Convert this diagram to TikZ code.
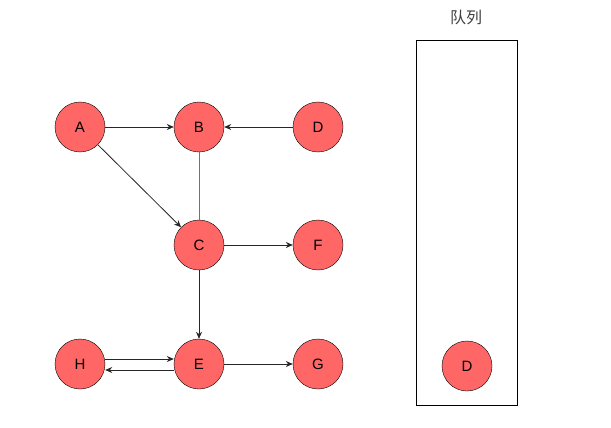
\documentclass[tikz,border=0pt]{standalone}
\usepackage{fontspec}
\setmainfont{Liberation Sans}
\newfontfamily\cjk{Noto Sans CJK SC}
\usepackage{tikz}
\usetikzlibrary{arrows.meta}
\definecolor{nodered}{HTML}{FF6666}
\tikzset{
  vertex/.style={circle, draw=black, fill=nodered, minimum size=50pt, inner sep=0pt, font=\fontsize{15}{15}\selectfont},
  edge/.style={draw=black!85, line width=0.8pt, -{Stealth[length=7pt,width=6pt]}}
}

\begin{document}
\begin{tikzpicture}[x=1pt,y=-1pt]
\useasboundingbox (0,0) rectangle (611,428);
\node[vertex] (A) at (80,127) {A};
\node[vertex] (B) at (199,127) {B};
\node[vertex] (D) at (318,127) {D};
\node[vertex] (C) at (199,245) {C};
\node[vertex] (F) at (318,245) {F};
\node[vertex] (H) at (80,364) {H};
\node[vertex] (E) at (199,364) {E};
\node[vertex] (G) at (318,364) {G};
\draw[edge] (A) -- (B);
\draw[edge] (D) -- (B);
\draw[edge] (A) -- (C);
\draw[draw=black!55, line width=1pt] (B) -- (C);
\draw[edge] (C) -- (F);
\draw[edge] (C) -- (E);
\draw[edge] (E) -- (G);
\draw[edge] ([yshift=5pt]H.east) -- ([yshift=5pt]E.west);
\draw[edge] ([yshift=-6pt]E.west) -- ([yshift=-6pt]H.east);
% queue
\node[draw=black, minimum width=101pt, minimum height=365pt, inner sep=0pt] (queue) at (466.5,222.5) {};
\node[font=\cjk\fontsize{16}{16}\selectfont, text=black!75] (qlabel) at (466,17) {队列};
\node[vertex] (qD) at (467,366) {D};
\end{tikzpicture}
\end{document}
